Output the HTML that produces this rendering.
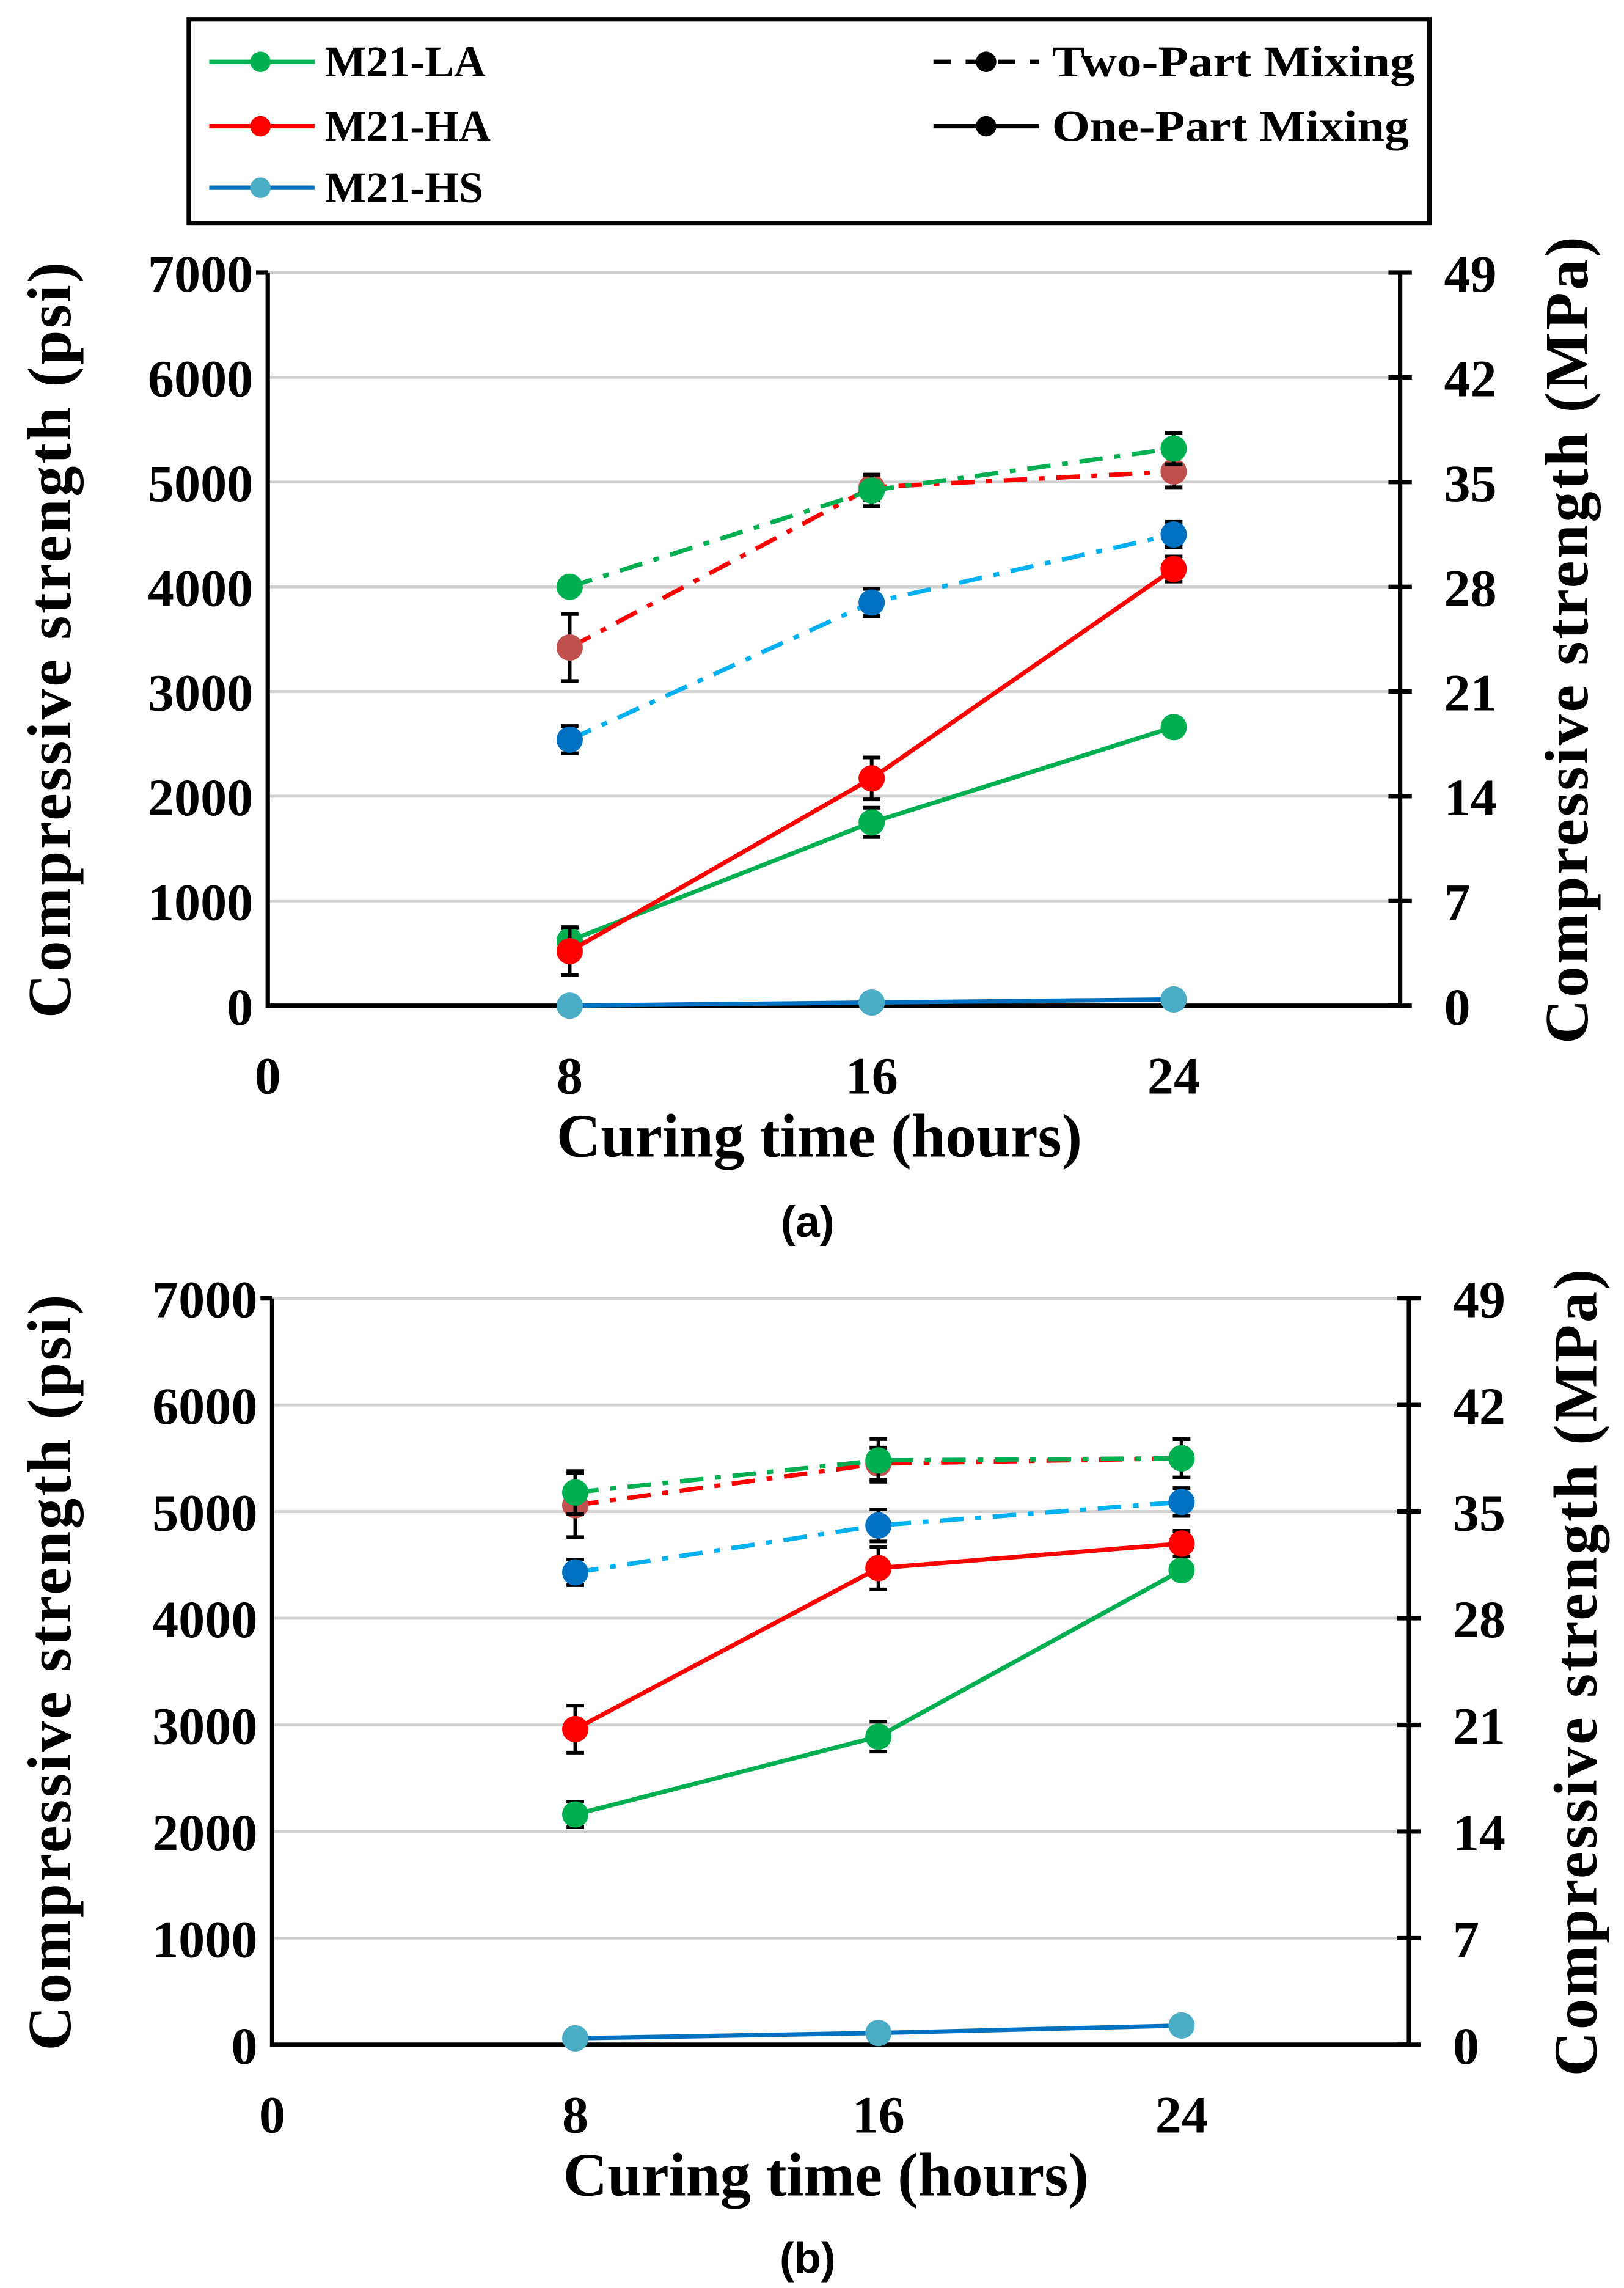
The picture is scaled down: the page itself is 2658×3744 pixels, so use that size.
<!DOCTYPE html>
<html><head><meta charset="utf-8"><style>
html,body{margin:0;padding:0;background:#fff;}
svg{display:block;}
text{font-family:"Liberation Serif",serif;font-weight:bold;fill:#000;}
</style></head><body>
<svg id="fig" width="2658" height="3744" viewBox="0 0 1110 1563" xmlns="http://www.w3.org/2000/svg">
<g>
<rect x="129" y="13" width="848" height="139" fill="#fff" stroke="#000" stroke-width="3"/>
<g><line x1="143" y1="42" x2="215" y2="42" stroke="#00b050" stroke-width="3"/><circle cx="178" cy="42" r="7" fill="#00b050"/><text x="222" y="52" font-size="30">M21-LA</text></g>
<g><line x1="143" y1="86" x2="215" y2="86" stroke="#ff0000" stroke-width="3"/><circle cx="178" cy="86" r="7" fill="#ff0000"/><text x="222" y="96" font-size="30">M21-HA</text></g>
<g><line x1="143" y1="128" x2="215" y2="128" stroke="#0070c0" stroke-width="3"/><circle cx="178" cy="128" r="7" fill="#4bacc6"/><text x="222" y="138" font-size="30">M21-HS</text></g>
<g><line x1="638" y1="42" x2="710" y2="42" stroke="#000" stroke-width="3" stroke-dasharray="12,10"/><circle cx="674" cy="42" r="7" fill="#000"/><text x="719" y="52" font-size="30" textLength="248" lengthAdjust="spacingAndGlyphs">Two-Part Mixing</text></g>
<g><line x1="638" y1="86" x2="710" y2="86" stroke="#000" stroke-width="3"/><circle cx="674" cy="86" r="7" fill="#000"/><text x="719" y="96" font-size="30" textLength="244" lengthAdjust="spacingAndGlyphs">One-Part Mixing</text></g>
</g>
<g id="chartA"></g>
<g id="chartB"></g>
<text x="552" y="845" font-size="30" text-anchor="middle" style="font-family:'Liberation Sans',sans-serif">(a)</text>
<text x="552" y="1553" font-size="30" text-anchor="middle" style="font-family:'Liberation Sans',sans-serif">(b)</text>
</svg>
<script>
const xTicks = [0, 8, 16, 24];
const yTicks = [0, 1000, 2000, 3000, 4000, 5000, 6000, 7000];
const yTicksMPa = [0, 7, 14, 21, 28, 35, 42, 49];
const times = [8, 16, 24];
// Panel (a)
const aLA2 = [4000, 4920, 5320];
const aHA2 = [3420, 4950, 5100];
const aHS2 = [2540, 3850, 4500];
const aLA1 = [620, 1750, 2660];
const aHA1 = [520, 2170, 4170];
const aHS1 = [0, 30, 60];
const aErrLA2 = [60, 150, 150];
const aErrHA2 = [320, 120, 150];
const aErrHS2 = [130, 130, 120];
const aErrLA1 = [120, 140, 60];
const aErrHA1 = [230, 200, 120];
const aErrHS1 = [0, 0, 0];
// Panel (b)
const bLA2 = [5180, 5480, 5500];
const bHA2 = [5060, 5450, 5500];
const bHS2 = [4430, 4870, 5090];
const bLA1 = [2160, 2890, 4450];
const bHA1 = [2960, 4470, 4700];
const bHS1 = [60, 110, 180];
const bErrLA2 = [200, 200, 180];
const bErrHA2 = [300, 150, 180];
const bErrHS2 = [120, 150, 130];
const bErrLA1 = [120, 140, 60];
const bErrHA1 = [220, 200, 120];
const bErrHS1 = [0, 0, 0];

const NS = "http://www.w3.org/2000/svg";
function mk(parent, tag, attrs){const e=document.createElementNS(NS,tag);for(const k in attrs)e.setAttribute(k,attrs[k]);parent.appendChild(e);return e;}

function drawChart(g, L, R, T, B, series){
  const xs = v => L + v/30*(R-L);
  const ys = v => B - v/7000*(B-T);
  yTicks.forEach((t,i)=>{
    if(t>0){const gl=mk(g,'line',{x1:L,x2:R,y1:ys(t),y2:ys(t),stroke:'#d0d0d0','stroke-width':2});
    
    }
    const tl=mk(g,'text',{x:L-10,y:ys(t)+13,'font-size':36,'text-anchor':'end'});tl.textContent=t;
    
    
    const tr=mk(g,'text',{x:R+30,y:ys(t)+13,'font-size':36,'text-anchor':'start'});tr.textContent=yTicksMPa[i];
    
    
    mk(g,'line',{x1:R-8,x2:R+8,y1:ys(t),y2:ys(t),stroke:'#000','stroke-width':3});
  });
  xTicks.forEach(t=>{
    const tl=mk(g,'text',{x:xs(t),y:B+60,'font-size':36,'text-anchor':'middle'});tl.textContent=t;
    
    
  });
  const ax=mk(g,'path',{d:`M${L},${T} L${L},${B} L${R},${B} L${R},${T}`,fill:'none',stroke:'#000','stroke-width':3});
  
  
  mk(g,'line',{x1:L-8,x2:L,y1:T,y2:T,stroke:'#000','stroke-width':3});
  series.forEach(s=>{
    const pts=times.map((t,i)=>xs(t)+','+ys(s.v[i])).join(' ');
    const pl=mk(g,'polyline',{points:pts,fill:'none',stroke:s.line,'stroke-width':3,'stroke-dasharray':s.dash||''});
    
    
    times.forEach((t,i)=>{
      if(s.e[i]>0){
        const x=xs(t),y1=ys(s.v[i]+s.e[i]),y2=ys(s.v[i]-s.e[i]);
        const eb=mk(g,'path',{d:`M${x},${y1} L${x},${y2} M${x-6},${y1} L${x+6},${y1} M${x-6},${y2} L${x+6},${y2}`,stroke:'#000','stroke-width':2.5,fill:'none'});
        
        
      }
      const c=mk(g,'circle',{cx:xs(t),cy:ys(s.v[i]),r:9,fill:s.marker});
      
      
    });
  });
  const xt=mk(g,'text',{x:(L+R)/2-10,y:B+103,'font-size':42,'text-anchor':'middle'});xt.textContent='Curing time (hours)';
  
  
  const cy=(T+B)/2;
  const yt=mk(g,'text',{x:0,y:0,'font-size':42,'text-anchor':'middle','letter-spacing':1.5,transform:`translate(48,${cy}) rotate(-90)`});yt.textContent='Compressive  strength (psi)';
  
  
  const yt2=mk(g,'text',{x:0,y:0,'font-size':42,'text-anchor':'middle','letter-spacing':1.5,transform:`translate(${R+128},${cy}) rotate(-90)`});yt2.textContent='Compressive  strength (MPa)';
  
  
}
const dd='16,8,4,8';
drawChart(document.getElementById('chartA'),183,957,186,687,[
 {name:'hs-one-part',v:aHS1,e:aErrHS1,line:'#0070c0',marker:'#4bacc6'},
 {name:'la-one-part',v:aLA1,e:aErrLA1,line:'#00b050',marker:'#00b050'},
 {name:'ha-one-part',v:aHA1,e:aErrHA1,line:'#ff0000',marker:'#ff0000'},
 {name:'hs-two-part',v:aHS2,e:aErrHS2,line:'#00b0f0',marker:'#0070c0',dash:dd},
 {name:'ha-two-part',v:aHA2,e:aErrHA2,line:'#ff0000',marker:'#c0504d',dash:dd},
 {name:'la-two-part',v:aLA2,e:aErrLA2,line:'#00b050',marker:'#00b050',dash:dd}
]);
drawChart(document.getElementById('chartB'),186,963,887,1397,[
 {name:'hs-one-part',v:bHS1,e:bErrHS1,line:'#0070c0',marker:'#4bacc6'},
 {name:'la-one-part',v:bLA1,e:bErrLA1,line:'#00b050',marker:'#00b050'},
 {name:'ha-one-part',v:bHA1,e:bErrHA1,line:'#ff0000',marker:'#ff0000'},
 {name:'hs-two-part',v:bHS2,e:bErrHS2,line:'#00b0f0',marker:'#0070c0',dash:dd},
 {name:'ha-two-part',v:bHA2,e:bErrHA2,line:'#ff0000',marker:'#c0504d',dash:dd},
 {name:'la-two-part',v:bLA2,e:bErrLA2,line:'#00b050',marker:'#00b050',dash:dd}
]);
</script>
</body></html>
